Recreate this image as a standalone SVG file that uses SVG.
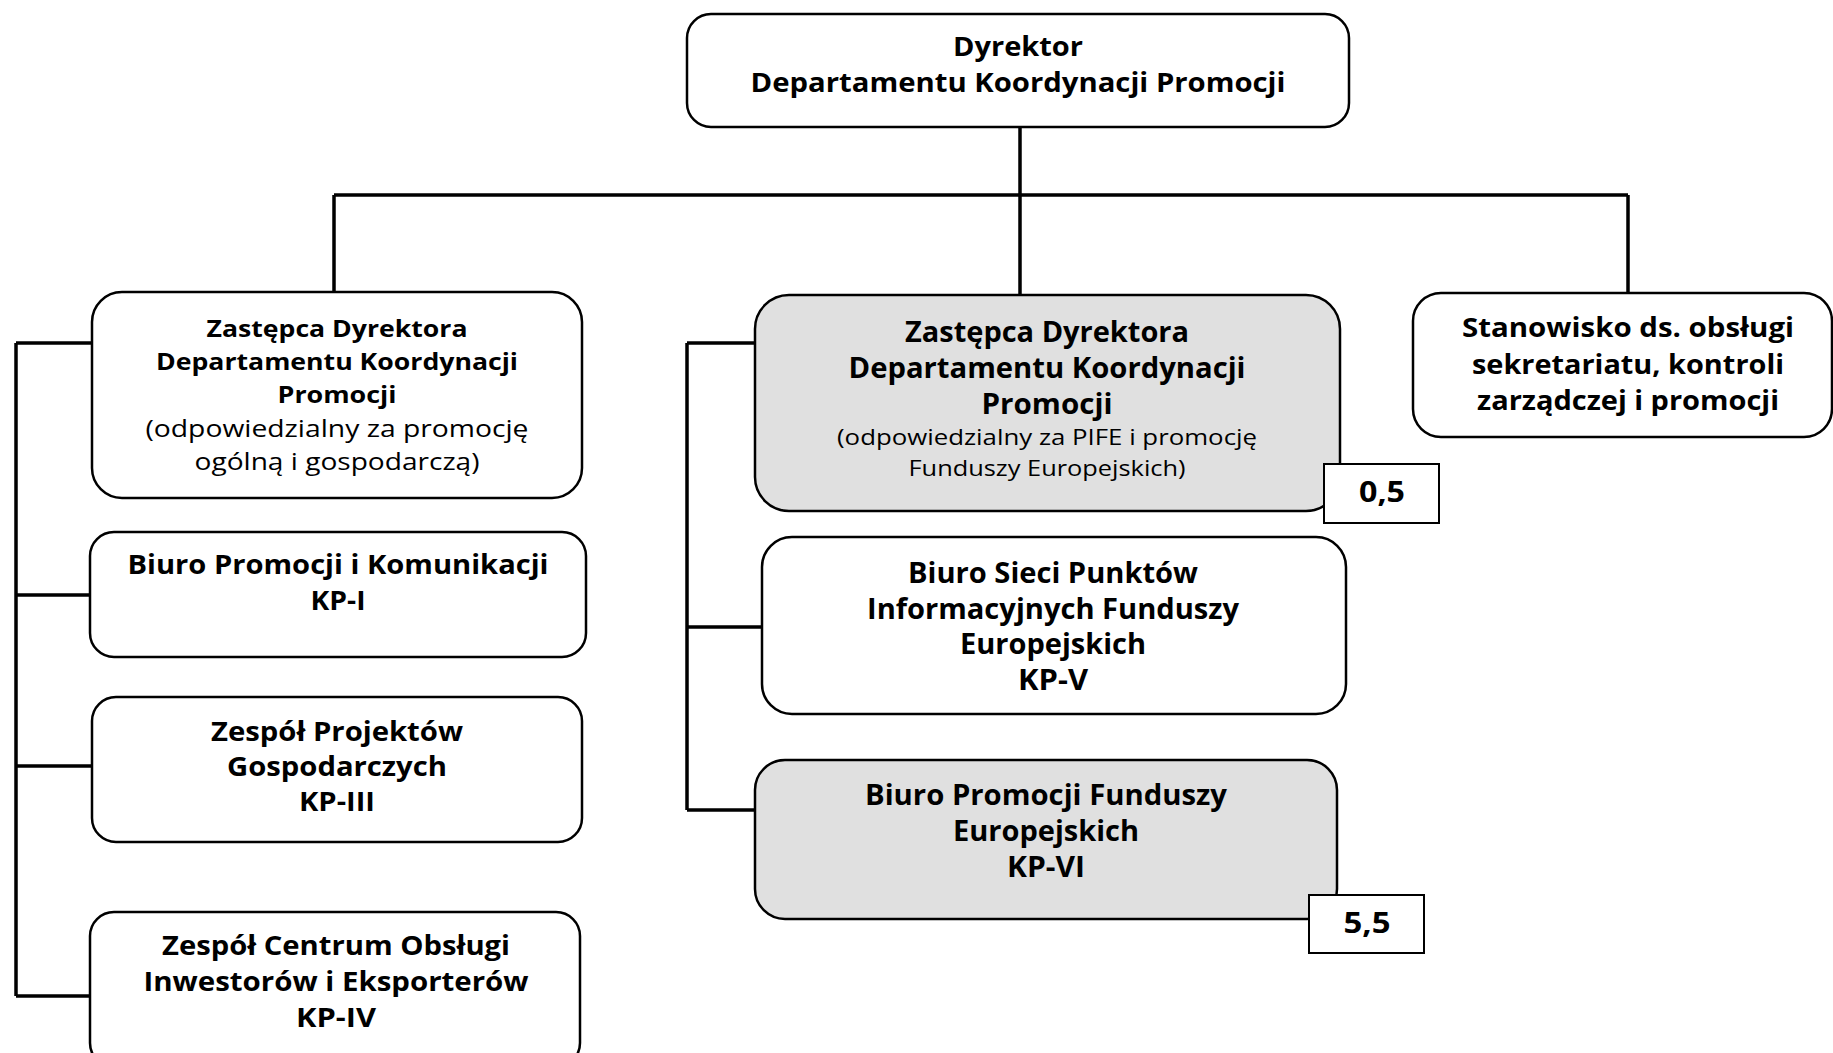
<svg xmlns="http://www.w3.org/2000/svg" width="1833" height="1053" viewBox="0 0 1833 1053">
<style>
.box{fill:#fff;stroke:#000;stroke-width:2.5}
.gray{fill:#e0e0e0;stroke:#000;stroke-width:2.5}
.num{fill:#fff;stroke:#000;stroke-width:2}
.ln{fill:none;stroke:#000;stroke-width:3.5}
text{font-family:"Open Sans","Liberation Sans",sans-serif;text-anchor:middle;fill:#000}
.b{font-weight:bold;font-size:26px}
.bm{font-weight:bold;font-size:28px}
.bs{font-weight:bold;font-size:24px}
.r{font-size:24px}
.rs{font-size:22px}
</style>
<rect width="1833" height="1053" fill="#fff"/>
<g id="connectors">
<path class="ln" d="M1020 127V195M334 195H1628M334 195V292M1020 195V295M1628 195V293"/>
<path class="ln" d="M16 343V996M16 343H92M16 595H90M16 766H92M16 996H90"/>
<path class="ln" d="M687 343V810M687 343H755M687 627H762M687 810H755"/>
</g>
<g id="dyrektor">
<rect class="box" x="687" y="14" width="662" height="113" rx="24"/>
<text class="b" x="1018" y="56" textLength="130" lengthAdjust="spacingAndGlyphs">Dyrektor</text>
<text class="b" x="1018" y="92" textLength="535" lengthAdjust="spacingAndGlyphs">Departamentu Koordynacji Promocji</text>
</g>
<g id="zastepca1">
<rect class="box" x="92" y="292" width="490" height="206" rx="30"/>
<text class="bs" x="337" y="337" textLength="261" lengthAdjust="spacingAndGlyphs">Zastępca Dyrektora</text>
<text class="bs" x="337" y="370" textLength="362" lengthAdjust="spacingAndGlyphs">Departamentu Koordynacji</text>
<text class="bs" x="337" y="403" textLength="119" lengthAdjust="spacingAndGlyphs">Promocji</text>
<text class="r" x="337" y="437" textLength="383" lengthAdjust="spacingAndGlyphs">(odpowiedzialny za promocję</text>
<text class="r" x="337" y="470" textLength="285" lengthAdjust="spacingAndGlyphs">ogólną i gospodarczą)</text>
</g>
<g id="kp1">
<rect class="box" x="90" y="532" width="496" height="125" rx="24"/>
<text class="b" x="338" y="574" textLength="421" lengthAdjust="spacingAndGlyphs">Biuro Promocji i Komunikacji</text>
<text class="b" x="338" y="610" textLength="55" lengthAdjust="spacingAndGlyphs">KP-I</text>
</g>
<g id="kp3">
<rect class="box" x="92" y="697" width="490" height="145" rx="24"/>
<text class="b" x="337" y="741" textLength="252" lengthAdjust="spacingAndGlyphs">Zespół Projektów</text>
<text class="b" x="337" y="776" textLength="220" lengthAdjust="spacingAndGlyphs">Gospodarczych</text>
<text class="b" x="337" y="811" textLength="76" lengthAdjust="spacingAndGlyphs">KP-III</text>
</g>
<g id="kp4">
<rect class="box" x="90" y="912" width="490" height="155" rx="24"/>
<text class="b" x="336" y="955" textLength="348" lengthAdjust="spacingAndGlyphs">Zespół Centrum Obsługi</text>
<text class="b" x="336" y="991" textLength="385" lengthAdjust="spacingAndGlyphs">Inwestorów i Eksporterów</text>
<text class="b" x="336" y="1027" textLength="80" lengthAdjust="spacingAndGlyphs">KP-IV</text>
</g>
<g id="zastepca2">
<rect class="gray" x="755" y="295" width="585" height="216" rx="34"/>
<text class="bm" x="1047" y="342" textLength="284" lengthAdjust="spacingAndGlyphs">Zastępca Dyrektora</text>
<text class="bm" x="1047" y="378" textLength="397" lengthAdjust="spacingAndGlyphs">Departamentu Koordynacji</text>
<text class="bm" x="1047" y="414" textLength="131" lengthAdjust="spacingAndGlyphs">Promocji</text>
<text class="rs" x="1047" y="445" textLength="420" lengthAdjust="spacingAndGlyphs">(odpowiedzialny za PIFE i promocję</text>
<text class="rs" x="1047" y="476" textLength="277" lengthAdjust="spacingAndGlyphs">Funduszy Europejskich)</text>
</g>
<g id="num05">
<rect class="num" x="1324" y="464" width="115" height="59"/>
<text class="bm" x="1382" y="502" textLength="46" lengthAdjust="spacingAndGlyphs">0,5</text>
</g>
<g id="kp5">
<rect class="box" x="762" y="537" width="584" height="177" rx="30"/>
<text class="bm" x="1053" y="583" textLength="290" lengthAdjust="spacingAndGlyphs">Biuro Sieci Punktów</text>
<text class="bm" x="1053" y="619" textLength="372" lengthAdjust="spacingAndGlyphs">Informacyjnych Funduszy</text>
<text class="bm" x="1053" y="654" textLength="186" lengthAdjust="spacingAndGlyphs">Europejskich</text>
<text class="bm" x="1053" y="690" textLength="70" lengthAdjust="spacingAndGlyphs">KP-V</text>
</g>
<g id="kp6">
<rect class="gray" x="755" y="760" width="582" height="159" rx="30"/>
<text class="bm" x="1046" y="805" textLength="362" lengthAdjust="spacingAndGlyphs">Biuro Promocji Funduszy</text>
<text class="bm" x="1046" y="841" textLength="186" lengthAdjust="spacingAndGlyphs">Europejskich</text>
<text class="bm" x="1046" y="877" textLength="78" lengthAdjust="spacingAndGlyphs">KP-VI</text>
</g>
<g id="num55">
<rect class="num" x="1309" y="895" width="115" height="58"/>
<text class="bm" x="1367" y="933" textLength="47" lengthAdjust="spacingAndGlyphs">5,5</text>
</g>
<g id="stanowisko">
<rect class="box" x="1413" y="293" width="419" height="144" rx="28"/>
<text class="b" x="1628" y="337" textLength="332" lengthAdjust="spacingAndGlyphs">Stanowisko ds. obsługi</text>
<text class="b" x="1628" y="374" textLength="312" lengthAdjust="spacingAndGlyphs">sekretariatu, kontroli</text>
<text class="b" x="1628" y="410" textLength="302" lengthAdjust="spacingAndGlyphs">zarządczej i promocji</text>
</g>
</svg>
